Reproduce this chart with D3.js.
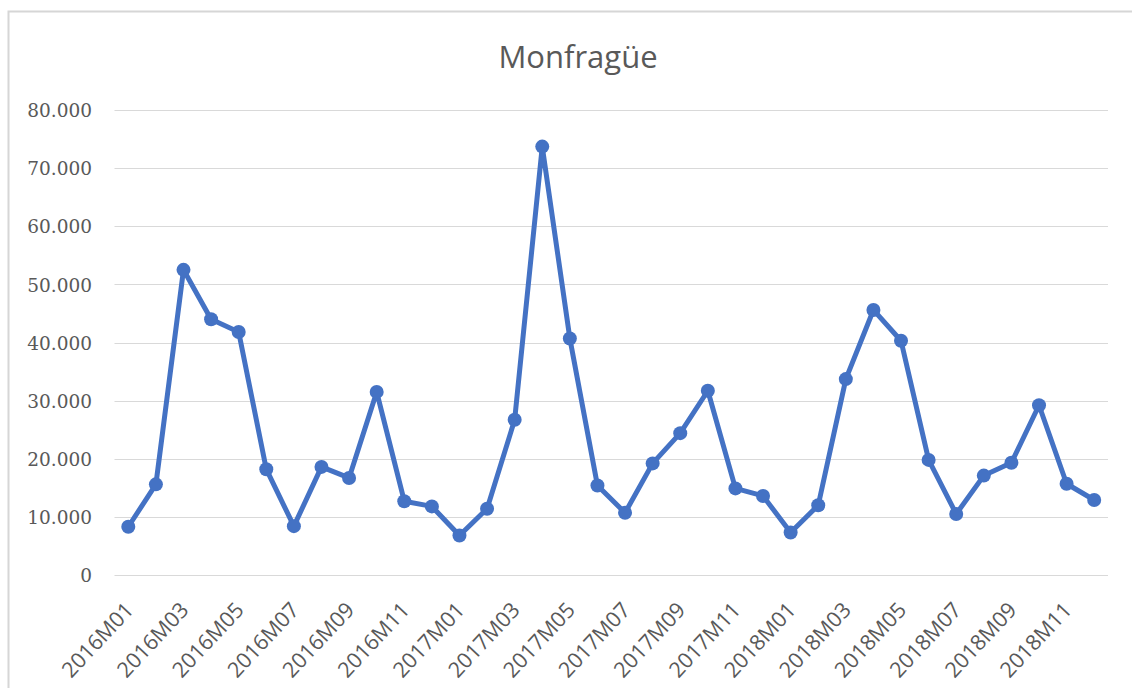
<!DOCTYPE html>
<html>
<head>
<meta charset="utf-8">
<script src="https://cdn.jsdelivr.net/npm/d3@7"></script>
<style>
  html, body { margin: 0; padding: 0; background: #fff; }
  svg { display: block; }
</style>
</head>
<body>
<svg id="chart" width="1132" height="688"></svg>
<script>
const title = "Monfragüe";
const months = [
  "2016M01","2016M02","2016M03","2016M04","2016M05","2016M06","2016M07","2016M08","2016M09","2016M10","2016M11","2016M12",
  "2017M01","2017M02","2017M03","2017M04","2017M05","2017M06","2017M07","2017M08","2017M09","2017M10","2017M11","2017M12",
  "2018M01","2018M02","2018M03","2018M04","2018M05","2018M06","2018M07","2018M08","2018M09","2018M10","2018M11","2018M12"
];
const visitors = [
  8300, 15600, 52500, 44000, 41800, 18200, 8400, 18600, 16700, 31500, 12700, 11800,
  6800, 11400, 26700, 73700, 40700, 15400, 10700, 19200, 24400, 31700, 14900, 13600,
  7300, 12000, 33700, 45600, 40300, 19800, 10500, 17100, 19300, 29200, 15700, 12900
];
const yTicks = [0, 10000, 20000, 30000, 40000, 50000, 60000, 70000, 80000];
const xTickLabels = months.filter((m, i) => i % 2 === 0);

const svg = d3.select("#chart");
const W = 1132, H = 688;
const plot = { left: 114.5, right: 1108, top: 110, bottom: 575 };

svg.append("rect").attr("width", W).attr("height", H).attr("fill", "#fff");

// frame
svg.append("path")
  .attr("d", `M8.5,${H} L8.5,11.5 L${W},11.5`)
  .attr("fill", "none").attr("stroke", "#d6d6d6").attr("stroke-width", 2);

const x = d3.scalePoint().domain(months).range([plot.left, plot.right]).padding(0.5);
const y = d3.scaleLinear().domain([0, 80000]).range([plot.bottom, plot.top]);

const locale = d3.formatLocale({ decimal: ",", thousands: ".", grouping: [3], currency: ["", "€"] });
const fmt = locale.format(",d");

// gridlines
svg.append("g").selectAll("line").data(yTicks).join("line")
  .attr("x1", plot.left).attr("x2", plot.right)
  .attr("y1", d => Math.round(y(d)) + 0.5).attr("y2", d => Math.round(y(d)) + 0.5)
  .attr("stroke", "#d9d9d9").attr("stroke-width", 1);

// y axis labels
const yAxis = d3.axisLeft(y).tickValues(yTicks).tickFormat(fmt).tickSize(0).tickPadding(0);
const yg = svg.append("g").attr("transform", `translate(92,0)`).call(yAxis);
yg.select(".domain").remove();
yg.selectAll("text")
  .attr("font-family", "'DejaVu Serif', serif")
  .attr("font-size", 18.5)
  .attr("fill", "#595959")
  .attr("dy", "0.36em");

// x axis labels
const xAxis = d3.axisBottom(x).tickValues(xTickLabels).tickSize(0).tickPadding(0);
const xg = svg.append("g").attr("transform", `translate(0,${plot.bottom})`).call(xAxis);
xg.select(".domain").remove();
xg.selectAll("text")
  .attr("font-family", "'Open Sans', sans-serif")
  .attr("font-size", 21.5)
  .attr("fill", "#595959")
  .attr("text-anchor", "end")
  .attr("y", 0).attr("dy", 0)
  .attr("transform", "translate(6,36) rotate(-47)");

// title
svg.append("text")
  .attr("x", 578).attr("y", 68)
  .attr("text-anchor", "middle")
  .attr("font-family", "'Open Sans', sans-serif")
  .attr("font-size", 31)
  .attr("fill", "#595959")
  .text(title);

// line
const line = d3.line().x((d, i) => x(months[i])).y(d => y(d));
svg.append("path")
  .datum(visitors)
  .attr("d", line)
  .attr("fill", "none")
  .attr("stroke", "#4472C4")
  .attr("stroke-width", 5)
  .attr("stroke-linejoin", "round");

svg.append("g").selectAll("circle").data(visitors).join("circle")
  .attr("cx", (d, i) => x(months[i]))
  .attr("cy", d => y(d))
  .attr("r", 7)
  .attr("fill", "#4472C4");
</script>
</body>
</html>
